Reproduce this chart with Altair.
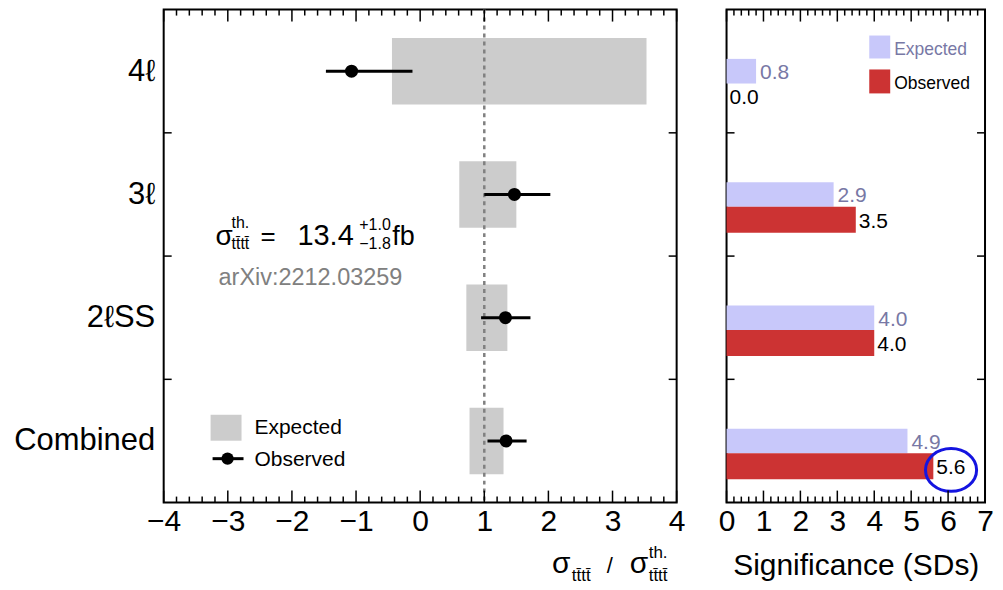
import altair as alt
import pandas as pd

FONT = "Liberation Sans"

# ---------------- data ----------------
categories = ["4ℓ", "3ℓ", "2ℓSS", "Combined"]
row_pos = [3.5, 2.5, 1.5, 0.5]
exp_lo = [-0.44, 0.61, 0.72, 0.77]
exp_hi = [3.53, 1.50, 1.36, 1.30]
obs_val = [-1.07, 1.47, 1.33, 1.34]
obs_lo = [-1.47, 1.00, 0.95, 1.05]
obs_hi = [-0.12, 2.03, 1.72, 1.66]
sig_expected = [0.8, 2.9, 4.0, 4.9]
sig_observed = [0.0, 3.5, 4.0, 5.6]

left_major = [-4, -3, -2, -1, 0, 1, 2, 3, 4]
right_major = [0, 1, 2, 3, 4, 5, 6, 7]
sm_reference = [1]
row_bounds = [1, 2, 3]

left_minor = [round(-4 + 0.2 * i, 1) for i in range(41) if i % 5 != 0]
right_minor = [round(0.2 * i, 1) for i in range(36) if i % 5 != 0]

rows = pd.DataFrame({
    "cat": categories, "pos": row_pos,
    "exp_lo": exp_lo, "exp_hi": exp_hi,
    "obs": obs_val, "obs_lo": obs_lo, "obs_hi": obs_hi,
    "sig_exp": sig_expected, "sig_obs": sig_observed,
})

W1, W2, H = 514, 259, 494
GRAY = "#cccccc"
LAV = "#c8c8fa"
RED = "#cc3333"
LAVTXT = "#7878a5"

xs_l = alt.Scale(domain=[-4, 4], nice=False, zero=False)
xs_r = alt.Scale(domain=[0, 7], nice=False, zero=False)
ys = alt.Scale(domain=[0, 4], nice=False, zero=False)

label_expr = " : ".join(
    f"datum.value == {p} ? '{c}'" for p, c in zip(row_pos, categories)
) + " : ''"

ax_y = alt.Axis(values=row_pos, labelExpr=label_expr, tickSize=0, domain=False,
                grid=False, labelFontSize=31, labelPadding=9, title=None,
                minExtent=155, maxExtent=155, labelColor="black", labelFont=FONT)
ax_xl = alt.Axis(values=left_major, format="d", tickSize=0, domain=False, grid=False,
                 labelFontSize=30, labelPadding=4, title=None, labelColor="black",
                 labelFont=FONT, labelFlush=False)
ax_xr = alt.Axis(values=right_major, format="d", tickSize=0, domain=False, grid=False,
                 labelFontSize=30, labelPadding=4, labelColor="black",
                 labelFont=FONT, labelFlush=False, title="Significance (SDs)",
                 titleFontSize=30, titleFontWeight="normal", titleColor="black",
                 titleFont=FONT, titlePadding=14)

one = pd.DataFrame({"k": [0]})


def txt(s, x, y, size, color="black", align="left", baseline="alphabetic"):
    return alt.Chart(one).mark_text(
        text=s, fontSize=size, color=color, align=align, baseline=baseline, font=FONT
    ).encode(x=alt.value(x), y=alt.value(y))


def ticks(vals, scale, axis, length):
    d = pd.DataFrame({"v": vals})
    bottom = alt.Chart(d).mark_rule(color="black", strokeWidth=1.5).encode(
        x=alt.X("v:Q", scale=scale, axis=axis), y=alt.value(H), y2=alt.value(H - length))
    top = alt.Chart(d).mark_rule(color="black", strokeWidth=1.5).encode(
        x=alt.X("v:Q", scale=scale, axis=axis), y=alt.value(0), y2=alt.value(length))
    return [bottom, top]


def ytick(width, axis):
    d = pd.DataFrame({"b": row_bounds})
    l = alt.Chart(d).mark_rule(color="black", strokeWidth=1.5).encode(
        y=alt.Y("b:Q", scale=ys, axis=axis), x=alt.value(0), x2=alt.value(8))
    r = alt.Chart(d).mark_rule(color="black", strokeWidth=1.5).encode(
        y=alt.Y("b:Q", scale=ys, axis=axis), x=alt.value(width - 8), x2=alt.value(width))
    return [l, r]


base = alt.Chart(rows)

# ---------------- left panel ----------------
boxes = base.mark_rect(color=GRAY).transform_calculate(
    y1="datum.pos + 0.27", y2="datum.pos - 0.27"
).encode(
    x=alt.X("exp_lo:Q", scale=xs_l, axis=ax_xl),
    x2="exp_hi:Q",
    y=alt.Y("y1:Q", scale=ys, axis=ax_y),
    y2="y2:Q",
)
dashed = alt.Chart(pd.DataFrame({"r": sm_reference})).mark_rule(
    color="#808080", strokeDash=[4, 4], strokeWidth=2.5
).encode(x=alt.X("r:Q", scale=xs_l, axis=ax_xl), y=alt.value(0), y2=alt.value(H))
errbar = base.mark_rule(color="black", strokeWidth=3).encode(
    x=alt.X("obs_lo:Q", scale=xs_l, axis=ax_xl), x2="obs_hi:Q",
    y=alt.Y("pos:Q", scale=ys, axis=ax_y))
points = base.mark_circle(color="black", size=170, opacity=1).encode(
    x=alt.X("obs:Q", scale=xs_l, axis=ax_xl), y=alt.Y("pos:Q", scale=ys, axis=ax_y))

T = "t" + "t\u0304" + "t" + "t\u0304"
left_text = [
    # cross-section annotation
    txt("σ", 52, 236, 28),
    txt("th.", 68, 219, 16),
    txt(T, 68, 240, 16),
    txt("=", 97, 236, 26),
    txt("13.4", 134, 236, 29),
    txt("+1.0", 196, 221, 16),
    txt("\u22121.8", 196, 240, 16),
    txt("fb", 229, 236, 27),
    txt("arXiv:2212.03259", 55, 276, 23.5, color="#808080"),
    # axis title
    txt("σ", 389, 565, 30),
    txt(T, 409, 573, 17),
    txt("/", 444, 565, 22),
    txt("σ", 467, 565, 30),
    txt("th.", 486, 550, 17),
    txt(T, 486, 573, 17),
    # legend
    alt.Chart(one).mark_rect(color=GRAY).encode(
        x=alt.value(47), x2=alt.value(78), y=alt.value(406), y2=alt.value(432)),
    txt("Expected", 91, 425, 21),
    alt.Chart(one).mark_rule(color="black", strokeWidth=3).encode(
        x=alt.value(49), x2=alt.value(80), y=alt.value(450)),
    alt.Chart(one).mark_circle(color="black", size=150, opacity=1).encode(
        x=alt.value(64), y=alt.value(450)),
    txt("Observed", 91, 457, 21),
]

left = alt.layer(
    boxes, dashed, errbar, points,
    *ticks(left_major, xs_l, ax_xl, 12), *ticks(left_minor, xs_l, ax_xl, 6),
    *ytick(W1, ax_y), *left_text,
).properties(width=W1, height=H)

# ---------------- right panel ----------------
bar_exp = base.mark_rect(color=LAV).transform_calculate(
    y1="datum.pos + 0.1", y2="datum.pos - 0.1"
).encode(
    x=alt.X("sig_exp:Q", scale=xs_r, axis=ax_xr), x2=alt.value(0),
    y=alt.Y("y1:Q", scale=ys, axis=None), y2="y2:Q")
bar_obs = base.mark_rect(color=RED).transform_calculate(
    y1="datum.pos - 0.1", y2="datum.pos - 0.31"
).encode(
    x=alt.X("sig_obs:Q", scale=xs_r, axis=ax_xr), x2=alt.value(0),
    y=alt.Y("y1:Q", scale=ys, axis=None), y2="y2:Q")
lab_exp = base.mark_text(align="left", baseline="middle", dx=4, dy=2, fontSize=21,
                         color=LAVTXT, font=FONT).encode(
    x=alt.X("sig_exp:Q", scale=xs_r, axis=ax_xr), y=alt.Y("pos:Q", scale=ys, axis=None),
    text=alt.Text("sig_exp:Q", format=".1f"))
lab_obs = base.mark_text(align="left", baseline="middle", dx=3, dy=2, fontSize=21,
                         color="black", font=FONT).transform_calculate(
    yo="datum.pos - 0.205"
).encode(
    x=alt.X("sig_obs:Q", scale=xs_r, axis=ax_xr), y=alt.Y("yo:Q", scale=ys, axis=None),
    text=alt.Text("sig_obs:Q", format=".1f"))
highlight = base.transform_filter("datum.cat == 'Combined'").transform_calculate(
    hx="datum.sig_obs + 0.48", hy="datum.pos - 0.235"
).mark_point(
    shape="M-1.28,0A1.28,1.07,0,0,1,1.28,0A1.28,1.07,0,0,1,-1.28,0Z",
    size=1600, filled=False, stroke="#1414e0", strokeWidth=3, opacity=1
).encode(x=alt.X("hx:Q", scale=xs_r, axis=ax_xr), y=alt.Y("hy:Q", scale=ys, axis=None))

right_leg = [
    alt.Chart(one).mark_rect(color=LAV).encode(
        x=alt.value(143), x2=alt.value(164), y=alt.value(26), y2=alt.value(49)),
    txt("Expected", 168, 46, 17.5, color=LAVTXT),
    alt.Chart(one).mark_rect(color=RED).encode(
        x=alt.value(143), x2=alt.value(164), y=alt.value(60), y2=alt.value(84)),
    txt("Observed", 168, 80, 17.5),
]

right = alt.layer(
    bar_exp, bar_obs, lab_exp, lab_obs, highlight,
    *ticks(right_major, xs_r, ax_xr, 12), *ticks(right_minor, xs_r, ax_xr, 6),
    *ytick(W2, None), *right_leg,
).properties(width=W2, height=H)

chart = alt.hconcat(left, right, spacing=50, bounds="flush").properties(
    padding={"left": 0, "top": -2, "right": 0, "bottom": 0}
).configure_view(stroke="black", strokeWidth=2)

chart.save("out.html", embed_options={"renderer": "svg", "actions": False})
